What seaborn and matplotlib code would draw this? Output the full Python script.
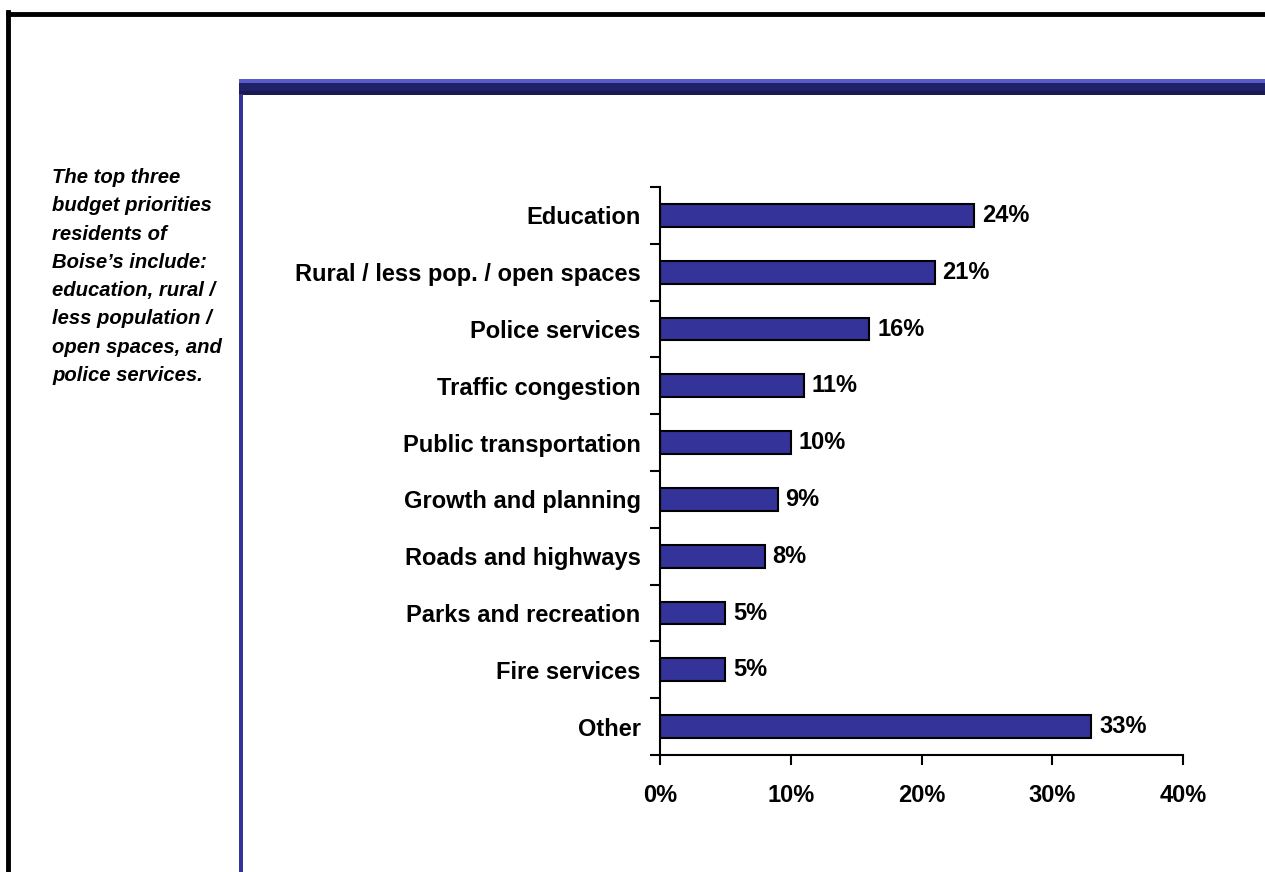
import matplotlib.pyplot as plt
import matplotlib.patches as patches
import matplotlib.lines as mlines
import seaborn as sns
import pandas as pd
from matplotlib.ticker import FixedLocator, PercentFormatter

# Data
categories = ['Education', 'Rural / less pop. / open spaces', 'Police services',
              'Traffic congestion', 'Public transportation', 'Growth and planning',
              'Roads and highways', 'Parks and recreation', 'Fire services', 'Other']
values = [24, 21, 16, 11, 10, 9, 8, 5, 5, 33]
x_ticks = [0, 10, 20, 30, 40]
side_note = ['The top three', 'budget priorities', 'residents of', 'Boise\u2019s include:',
             'education, rural /', 'less population /', 'open spaces, and', 'police services.']

df = pd.DataFrame({'Category': categories, 'Percent': values})

sns.set_style('white')
plt.rcParams['font.family'] = ['Liberation Sans', 'DejaVu Sans']
plt.rcParams['text.color'] = 'black'
plt.rcParams['xtick.color'] = 'black'
plt.rcParams['ytick.color'] = 'black'

FS = 17

W, H = 1265, 872
fig = plt.figure(figsize=(W / 100, H / 100), dpi=100)
ax = fig.add_axes([660 / W, 1 - 755 / H, (1183 - 660) / W, (755 - 187) / H])

sns.barplot(data=df, x='Percent', y='Category', orient='h', color='#333399',
            edgecolor='black', linewidth=1.5, width=0.4, saturation=1, ax=ax)

# value labels
for i, v in enumerate(values):
    ax.text(v + 0.6, i, f'{v}%', va='center', ha='left', fontsize=FS,
            fontweight='bold', color='black')

ax.set_xlim(0, 40)
ax.set_ylim(len(categories) - 0.5, -0.5)
ax.set_xticks(x_ticks)
ax.xaxis.set_major_formatter(PercentFormatter(decimals=0))
ax.set_xlabel('')
ax.set_ylabel('')

ax.yaxis.set_minor_locator(FixedLocator([i - 0.5 for i in range(len(categories) + 1)]))
ax.tick_params(axis='y', which='major', length=0, pad=14, labelsize=FS)
ax.tick_params(axis='y', which='minor', length=7, width=1.5, color='black', left=True)
ax.tick_params(axis='x', which='major', length=7, width=1.5, color='black', bottom=True,
               pad=14, labelsize=FS)
for lab in ax.get_yticklabels() + ax.get_xticklabels():
    lab.set_fontweight('bold')
    lab.set_color('black')

for s in ['top', 'right']:
    ax.spines[s].set_visible(False)
for s in ['left', 'bottom']:
    ax.spines[s].set_color('black')
    ax.spines[s].set_linewidth(1.5)

# outer border (top and left)
fig.add_artist(mlines.Line2D([8 / W, 8 / W], [0, 1 - 12 / H], color='black', lw=3.5,
                             transform=fig.transFigure, solid_capstyle='projecting'))
fig.add_artist(mlines.Line2D([8 / W, 1], [1 - 14 / H, 1 - 14 / H], color='black', lw=3.5,
                             transform=fig.transFigure))

# header band
fig.add_artist(patches.Rectangle((239 / W, 1 - 95 / H), 1 - 239 / W, 4 / H,
                                 color='#1a1a50', transform=fig.transFigure, lw=0))
fig.add_artist(patches.Rectangle((239 / W, 1 - 91 / H), 1 - 239 / W, 8 / H,
                                 color='#1f2266', transform=fig.transFigure, lw=0))
fig.add_artist(patches.Rectangle((239 / W, 1 - 83 / H), 1 - 239 / W, 4 / H,
                                 color='#5a5ac8', transform=fig.transFigure, lw=0))
# vertical side line
fig.add_artist(patches.Rectangle((239 / W, 0), 4 / W, 1 - 94 / H,
                                 color='#333399', transform=fig.transFigure, lw=0))

# side note, one line at a time
for k, line in enumerate(side_note):
    fig.text(52 / W, 1 - (183 + k * 28.3) / H, line, ha='left', va='baseline',
             fontsize=14.6, fontweight='bold', fontstyle='italic', color='black')

fig.savefig('out.png', dpi=100, facecolor='white')
